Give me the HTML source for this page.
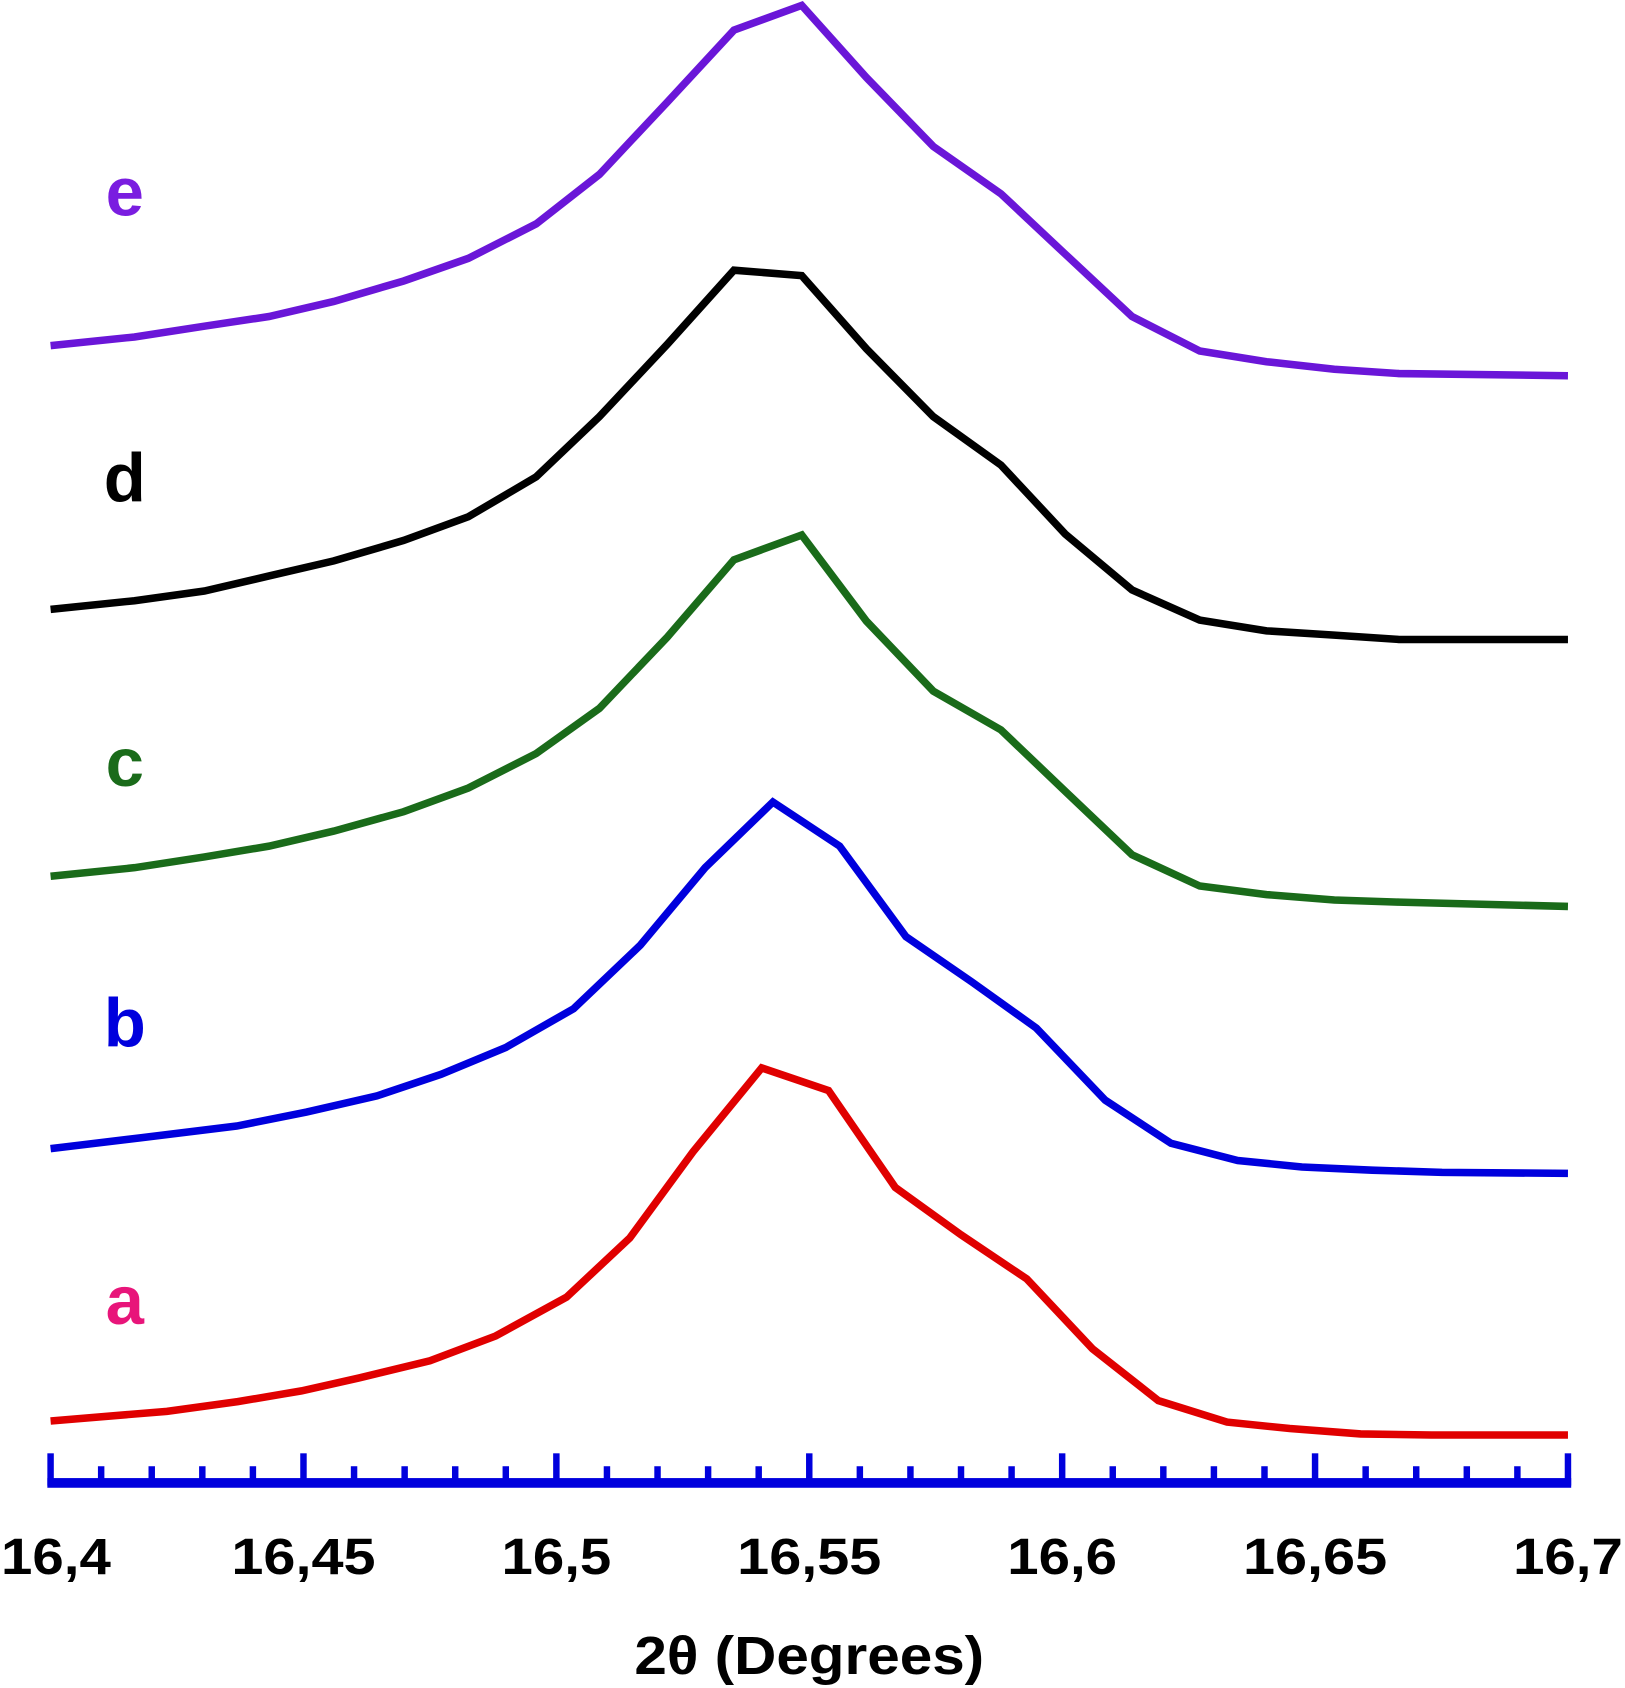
<!DOCTYPE html>
<html><head><meta charset="utf-8"><style>
html,body{margin:0;padding:0;background:#fff;}
svg{display:block;}
</style></head><body>
<svg width="1625" height="1688" viewBox="0 0 1510 1568" preserveAspectRatio="none" xmlns="http://www.w3.org/2000/svg">
<g id="plot"></g>
<g id="axis"></g>
<text x="752" y="1555" text-anchor="middle" font-family="Liberation Sans, sans-serif" font-weight="bold" font-size="50" textLength="325" lengthAdjust="spacingAndGlyphs">2θ (Degrees)</text>
</svg>
<script>
const xDeg = [16.4,16.423,16.437,16.4496,16.461,16.475,16.488,16.502,16.5145,16.527,16.5406,16.5538,16.567,16.580,16.593,16.606,16.619,16.6326,16.645,16.659,16.673,16.7];
const xDegB = [16.4,16.4177,16.4368,16.4506,16.4645,16.4772,16.490,16.5034,16.5166,16.5294,16.5428,16.556,16.5691,16.5821,16.5949,16.6085,16.6215,16.6347,16.6474,16.6613,16.6751,16.7];
const xDegCDE = [16.4,16.4166,16.4304,16.4432,16.456,16.4698,16.4826,16.496,16.5085,16.5219,16.5351,16.5485,16.5613,16.5745,16.5879,16.6006,16.6138,16.6272,16.6404,16.6538,16.6666,16.7];
const seriesA = [0.58,0.67,0.76,0.86,0.98,1.14,1.37,1.73,2.28,3.08,3.86,3.65,2.75,2.31,1.90,1.25,0.77,0.57,0.51,0.46,0.45,0.45];
const seriesB = [3.11,3.21,3.32,3.45,3.60,3.80,4.05,4.41,5.00,5.72,6.33,5.92,5.08,4.66,4.23,3.56,3.16,3.00,2.94,2.91,2.89,2.88];
const seriesC = [5.64,5.72,5.82,5.92,6.06,6.24,6.46,6.78,7.20,7.86,8.58,8.81,8.01,7.36,7.00,6.43,5.84,5.55,5.47,5.42,5.40,5.36];
const seriesD = [8.12,8.20,8.29,8.43,8.57,8.76,8.98,9.35,9.91,10.58,11.27,11.22,10.54,9.91,9.46,8.82,8.30,8.02,7.92,7.88,7.84,7.84];
const seriesE = [10.57,10.65,10.75,10.84,10.98,11.17,11.38,11.70,12.16,12.83,13.50,13.73,13.06,12.42,11.98,11.42,10.84,10.52,10.42,10.35,10.31,10.29];
const seriesNames = ["a","b","c","d","e"];
const tickLabels = ["16,4","16,45","16,5","16,55","16,6","16,65","16,7"];
const tickValues = [16.4,16.45,16.5,16.55,16.6,16.65,16.7];

const NS="http://www.w3.org/2000/svg";
const X0=47,X1=1457,D0=16.4,D1=16.7,BASE=1378,YS=100;
function xs(v){return X0+(v-D0)/(D1-D0)*(X1-X0);}
function ys(v){return BASE-v*YS;}
const plot=document.getElementById('plot'), axis=document.getElementById('axis');
const series=[[xDeg,seriesA,'#e00000'],[xDegB,seriesB,'#0000dd'],[xDegCDE,seriesC,'#1a6b1a'],[xDegCDE,seriesD,'#000000'],[xDegCDE,seriesE,'#6a16d8']];
const labelColors=['#e8157a','#0000dd','#1a6b1a','#000000','#7a1de0'];
const labelY=[1230,972,730,466,200];
series.forEach((s,i)=>{
  const p=document.createElementNS(NS,'polyline');
  
  
  p.setAttribute('points',s[0].map((x,j)=>xs(x).toFixed(1)+','+ys(s[1][j]).toFixed(1)).join(' '));
  p.setAttribute('fill','none');p.setAttribute('stroke',s[2]);p.setAttribute('stroke-width','7');p.setAttribute('stroke-linejoin','miter');
  plot.appendChild(p);
  const t=document.createElementNS(NS,'text');
  
  
  t.setAttribute('x','116');t.setAttribute('text-anchor','middle');
  t.setAttribute('y',String(labelY[i]));
  t.setAttribute('font-family','Liberation Sans, sans-serif');t.setAttribute('font-weight','bold');t.setAttribute('font-size','64');
  t.setAttribute('fill',labelColors[i]);t.textContent=seriesNames[i];
  plot.appendChild(t);
});
const bl=document.createElementNS(NS,'rect');


bl.setAttribute('x',X0-3);bl.setAttribute('y',1373);bl.setAttribute('width',X1-X0+6);bl.setAttribute('height',9);bl.setAttribute('fill','#0000dd');
axis.appendChild(bl);
for(let k=0;k<=30;k++){
  const v=D0+k*0.01, major=k%5===0;
  const r=document.createElementNS(NS,'rect');
  
  
  r.setAttribute('x',(xs(v)-3).toFixed(1));r.setAttribute('y',major?1350:1362);r.setAttribute('width',6);r.setAttribute('height',major?30:18);r.setAttribute('fill','#0000dd');
  axis.appendChild(r);
}
tickValues.forEach((v,i)=>{
  const t=document.createElementNS(NS,'text');
  
  
  let x=xs(v); if(i===0)x=Math.max(x,52); if(i===tickValues.length-1)x=Math.min(x,1457);
  t.setAttribute('x',x.toFixed(1));t.setAttribute('y','1462');t.setAttribute('text-anchor','middle');
  t.setAttribute('font-family','Liberation Sans, sans-serif');t.setAttribute('font-weight','bold');t.setAttribute('font-size','47');
  const nd=tickLabels[i].replace(',','').length;
  t.setAttribute('textLength',String(nd*32+6));t.setAttribute('lengthAdjust','spacingAndGlyphs');
  t.textContent=tickLabels[i];
  axis.appendChild(t);
});
</script>
</body></html>
